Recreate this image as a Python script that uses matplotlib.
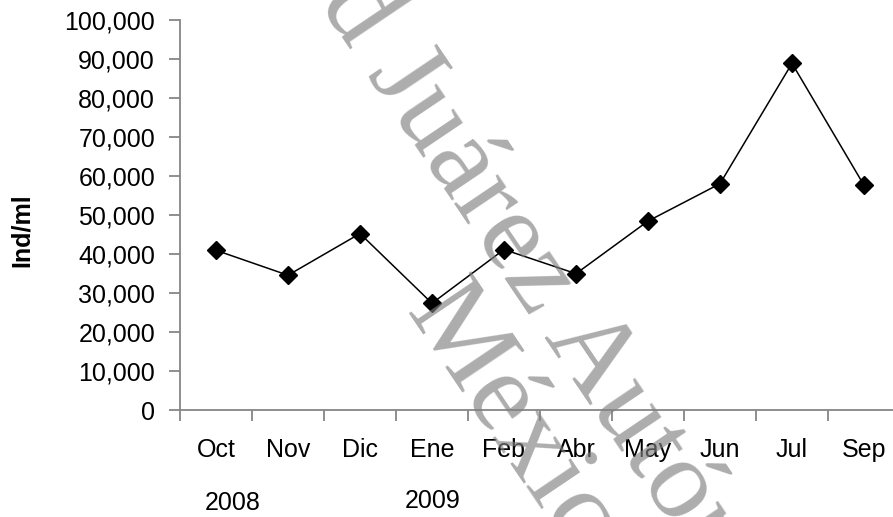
import matplotlib
matplotlib.use("Agg")
import matplotlib.pyplot as plt
import numpy as np
from matplotlib.ticker import FixedLocator, StrMethodFormatter

plt.rcParams['font.family'] = ['Liberation Sans', 'DejaVu Sans']

# datos
meses = ["Oct", "Nov", "Dic", "Ene", "Feb", "Abr", "May", "Jun", "Jul", "Sep"]
ind_ml = [41000, 34600, 45300, 27400, 41200, 35000, 48500, 58100, 89000, 57700]
anios = ["2008", "2009"]

W, H = 893, 517
fig = plt.figure(figsize=(W / 100, H / 100), dpi=100)
ax = fig.add_axes([180 / W, 107 / H, 720 / W, 389.5 / H])

gris = "#868686"
x = np.arange(len(meses))
ax.plot(x, ind_ml, color="black", lw=1.1, marker="D", ms=9.5,
        mfc="black", mec="black", zorder=5, clip_on=False)

ax.set_xlim(-0.5, len(meses) - 0.5)
ax.set_ylim(0, 100000)
ax.set_yticks(np.arange(0, 100001, 10000))
ax.yaxis.set_major_formatter(StrMethodFormatter("{x:,.0f}"))

ax.set_xticks(x)
ax.set_xticklabels(meses)
ax.xaxis.set_minor_locator(FixedLocator(np.arange(-0.5, len(meses), 1.0)))
ax.tick_params(axis="x", which="major", length=0, pad=20, labelsize=18)
ax.tick_params(axis="x", which="minor", length=8, width=1.3, color=gris,
               direction="out")
ax.tick_params(axis="y", length=8, width=1.3, color=gris, pad=10,
               labelsize=18)

for s in ["top", "right"]:
    ax.spines[s].set_visible(False)
for s in ["left", "bottom"]:
    ax.spines[s].set_color(gris)
    ax.spines[s].set_linewidth(1.3)

fig.text(22 / W, 1 - 230 / H, "Ind/ml", rotation=90, fontsize=18,
         fontweight="bold", ha="center", va="center")
fig.text(233 / W, 1 - 503 / H, anios[0], fontsize=18, ha="center", va="center")
fig.text(433 / W, 1 - 501 / H, anios[1], fontsize=18, ha="center", va="center")

# marca de agua
fig.text(318 / W, 1 - 2 / H, "d Juárez Autónoma", family="Liberation Serif",
         fontsize=83, color="0.5", alpha=0.65, rotation=-56,
         rotation_mode="anchor", ha="left", va="baseline", zorder=1)
fig.text(404 / W, 1 - 312 / H, "México", family="Liberation Serif",
         fontsize=83, color="0.5", alpha=0.65, rotation=-56,
         rotation_mode="anchor", ha="left", va="baseline", zorder=1)

fig.savefig("out.png", dpi=100)
